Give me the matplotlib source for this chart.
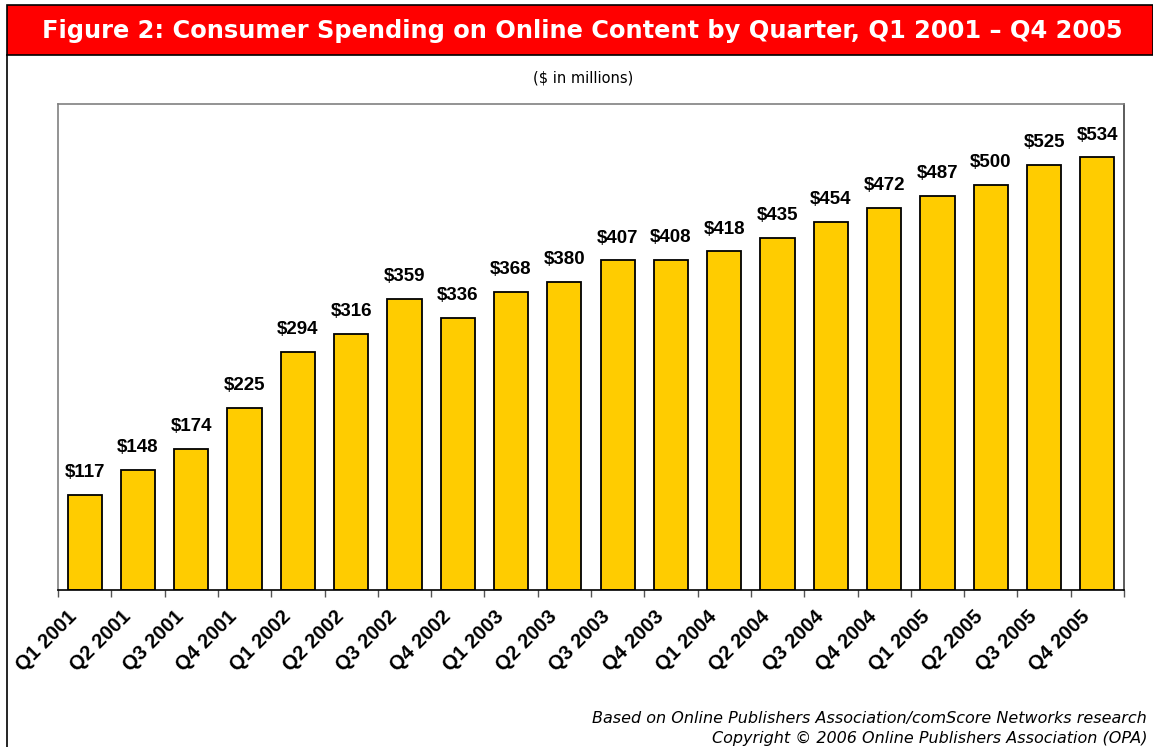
import numpy as np
import matplotlib.pyplot as plt
from matplotlib import font_manager as fm
from matplotlib.patches import Rectangle
from matplotlib.lines import Line2D

# Datos del gráfico
trimestres = ["Q1 2001", "Q2 2001", "Q3 2001", "Q4 2001",
              "Q1 2002", "Q2 2002", "Q3 2002", "Q4 2002",
              "Q1 2003", "Q2 2003", "Q3 2003", "Q4 2003",
              "Q1 2004", "Q2 2004", "Q3 2004", "Q4 2004",
              "Q1 2005", "Q2 2005", "Q3 2005", "Q4 2005"]
gasto = [117, 148, 174, 225, 294, 316, 359, 336, 368, 380,
         407, 408, 418, 435, 454, 472, 487, 500, 525, 534]

titulo = "Figure 2: Consumer Spending on Online Content by Quarter, Q1 2001 \u2013 Q4 2005"
subtitulo = "($ in millions)"
fuente_1 = "Based on Online Publishers Association/comScore Networks research"
fuente_2 = "Copyright \u00a9 2006 Online Publishers Association (OPA)"


# Buscar Liberation Sans Bold (no la versión Narrow)
def fuente_arial_bold():
    for f in fm.fontManager.ttflist:
        if f.name == "Liberation Sans" and f.weight in (700, "bold") \
                and f.style == "normal" and "Narrow" not in f.fname:
            return fm.FontProperties(fname=f.fname)
    return fm.FontProperties(family="DejaVu Sans", weight="bold")


W, H = 1153, 747
fig = plt.figure(figsize=(W / 100, H / 100), dpi=100)

# Barra roja del título
fig.patches.append(Rectangle((7 / W, 1 - 55 / H), 1 - 7 / W, 50 / H,
                             transform=fig.transFigure, facecolor="#ff0000",
                             edgecolor="black", linewidth=1.2))
fig.text(582 / W, 1 - 31 / H, titulo, color="white", fontsize=17.4,
         fontweight="bold", ha="center", va="center", family="DejaVu Sans")
# línea izquierda del marco
fig.lines.append(Line2D([7 / W, 7 / W], [0, 1 - 55 / H], transform=fig.transFigure,
                        color="black", linewidth=1.2))

fig.text(583 / W, 1 - 78 / H, subtitulo, fontsize=10.5, ha="center", va="center",
         family="DejaVu Sans")

ax = fig.add_axes([58 / W, 1 - 590 / H, (1124 - 58) / W, (590 - 104) / H])
x = np.arange(len(gasto))
ax.bar(x, gasto, width=0.64, color="#ffcc00", edgecolor="black", linewidth=1.3)

fp_etiq = fuente_arial_bold()
fp_etiq.set_size(13.5)
for xi, v in zip(x, gasto):
    ax.text(xi, v + 22, f"${v}", ha="center", va="baseline", fontproperties=fp_etiq)

ax.set_xlim(-0.5, len(gasto) - 0.5)
ax.set_ylim(0, 600)
ax.set_yticks([])
ax.set_xticks(np.arange(len(gasto) + 1) - 0.5, minor=False)
ax.set_xticklabels([])
ax.tick_params(axis="x", length=5, width=1, color="#555555")

fp_tick = fuente_arial_bold()
fp_tick.set_size(14.5)
for xi, t in zip(x, trimestres):
    ax.text(xi - 0.32, -0.035, t, transform=ax.get_xaxis_transform(),
            rotation=45, ha="right", va="top", rotation_mode="anchor",
            fontproperties=fp_tick)

ax.spines["top"].set_color("#808080")
ax.spines["left"].set_color("#808080")
ax.spines["right"].set_color("#404040")
ax.spines["bottom"].set_color("black")
for s in ax.spines.values():
    s.set_linewidth(1.2)

fig.text(1147 / W, 1 - 718 / H, fuente_1, fontsize=11.5, style="italic",
         ha="right", va="center", family="DejaVu Sans")
fig.text(1147 / W, 1 - 738 / H, fuente_2, fontsize=11.5, style="italic",
         ha="right", va="center", family="DejaVu Sans")

fig.savefig("out.png", dpi=100)
